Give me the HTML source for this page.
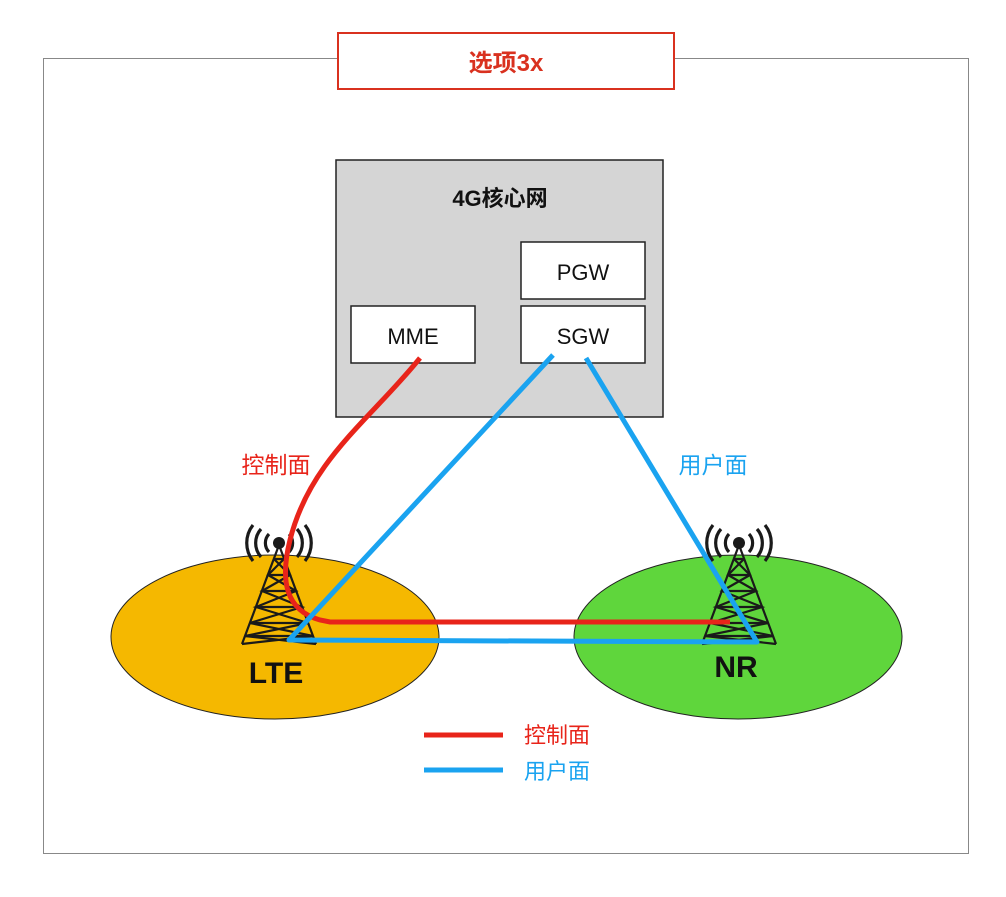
<!DOCTYPE html>
<html><head><meta charset="utf-8"><style>
html,body{margin:0;padding:0;background:#fff;}
svg text{font-family:"Liberation Sans","Noto Sans CJK SC",sans-serif;}
</style></head><body>
<svg width="1006" height="892" viewBox="0 0 1006 892" xmlns="http://www.w3.org/2000/svg">
<defs>
<g id="tower" fill="none" stroke="#1a1a1a" stroke-width="2.2">
  <path d="M0,0 L-37,99 M0,0 L37,99"/>
  <path d="M-5,14 L5,14 M-11,30 L11,30 M-17,46 L17,46 M-23,62 L23,62 M-29,78 L29,78 M-34,91 L34,91"/>
  <path d="M-5,14 L11,30 L-17,46 L23,62 L-29,78 L34,91"/>
  <path d="M5,14 L-11,30 L17,46 L-23,62 L29,78 L-34,91"/>
  <path d="M-34,91 L37,99 M34,91 L-37,99"/>
  <circle cx="0" cy="-2" r="6" fill="#1a1a1a" stroke="none"/>
  <path d="M-10,-11 A13,13 0 0 0 -10,7 M10,-11 A13,13 0 0 1 10,7" stroke-width="3.2"/>
  <path d="M-18,-16 A21,21 0 0 0 -18,12 M18,-16 A21,21 0 0 1 18,12" stroke-width="3.2"/>
  <path d="M-26,-20 A29,29 0 0 0 -26,16 M26,-20 A29,29 0 0 1 26,16" stroke-width="3.2"/>
</g>
</defs>
<rect x="43.5" y="58.5" width="925" height="795" fill="#fff" stroke="#888" stroke-width="1"/>
<rect x="338" y="33" width="336" height="56" fill="#fff" stroke="#d9311f" stroke-width="2"/>
<text x="506" y="71" text-anchor="middle" font-size="24" font-weight="bold" fill="#d9311f">选项3x</text>

<rect x="336" y="160" width="327" height="257" fill="#d5d5d5" stroke="#222" stroke-width="1.5"/>
<text x="500" y="206" text-anchor="middle" font-size="22" font-weight="bold" fill="#111">4G核心网</text>
<rect x="351" y="306" width="124" height="57" fill="#fff" stroke="#222" stroke-width="1.5"/>
<text x="413" y="344" text-anchor="middle" font-size="22" fill="#111">MME</text>
<rect x="521" y="242" width="124" height="57" fill="#fff" stroke="#222" stroke-width="1.5"/>
<text x="583" y="280" text-anchor="middle" font-size="22" fill="#111">PGW</text>
<rect x="521" y="306" width="124" height="57" fill="#fff" stroke="#222" stroke-width="1.5"/>
<text x="583" y="344" text-anchor="middle" font-size="22" fill="#111">SGW</text>

<ellipse cx="275" cy="637" rx="164" ry="82" fill="#f5b800" stroke="#222" stroke-width="1"/>
<ellipse cx="738" cy="637" rx="164" ry="82" fill="#5fd63c" stroke="#222" stroke-width="1"/>
<use href="#tower" x="279" y="545"/>
<use href="#tower" x="739" y="545"/>
<text x="276" y="683" text-anchor="middle" font-size="30" font-weight="bold" fill="#111">LTE</text>
<text x="736" y="677" text-anchor="middle" font-size="30" font-weight="bold" fill="#111">NR</text>

<path d="M420,358 C370,420 310,460 290,540 C280,580 285,610 320,620 L330,622 L730,622" fill="none" stroke="#e8241a" stroke-width="5"/>
<path d="M553,355 L289,640 L757,642 L586,358" fill="none" stroke="#1aa3f0" stroke-width="5" stroke-linejoin="round"/>

<text x="276" y="473" text-anchor="middle" font-size="23" fill="#e8241a">控制面</text>
<text x="713" y="473" text-anchor="middle" font-size="23" fill="#1aa3f0">用户面</text>

<line x1="424" y1="735" x2="503" y2="735" stroke="#e8241a" stroke-width="5"/>
<line x1="424" y1="770" x2="503" y2="770" stroke="#1aa3f0" stroke-width="5"/>
<text x="524" y="743" font-size="22" fill="#e8241a">控制面</text>
<text x="524" y="779" font-size="22" fill="#1aa3f0">用户面</text>
</svg>
</body></html>
